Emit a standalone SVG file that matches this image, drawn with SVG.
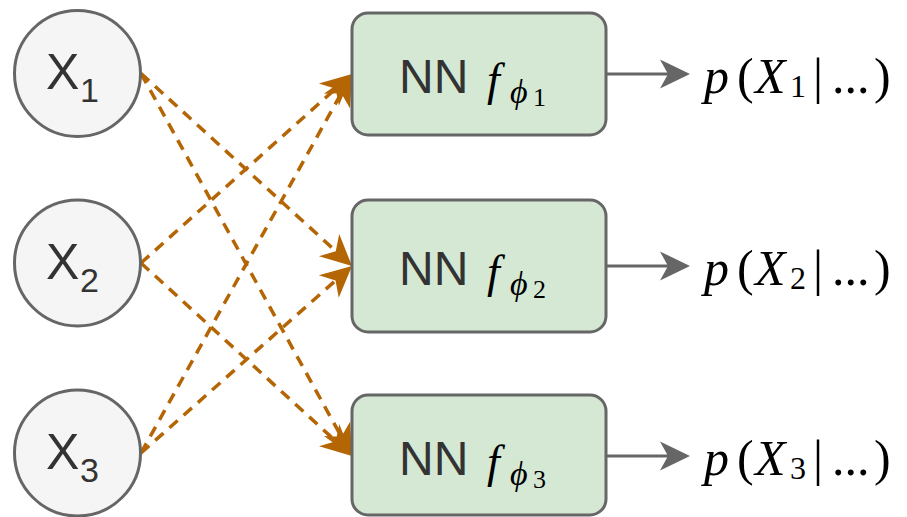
<svg xmlns="http://www.w3.org/2000/svg" width="907" height="517" viewBox="0 0 907 517">
<style>
.circ{fill:#f5f5f5;stroke:#666666;stroke-width:3}
.box{fill:#d5e8d4;stroke:#666666;stroke-width:3}
.lbl{font-family:"Liberation Sans",Arial,sans-serif;fill:#333333}
.math{font-family:"Liberation Serif","Times New Roman",serif;fill:#000000}
.it{font-style:italic}
.dash{stroke:#b46504;stroke-width:3.5;stroke-dasharray:11 8;fill:none}
.out{stroke:#666666;stroke-width:3;fill:none}
</style>
<defs>
<marker id="ah-orange" markerUnits="userSpaceOnUse" markerWidth="40" markerHeight="40" refX="0" refY="0" orient="auto" overflow="visible">
<path d="M22,0 L-9,-15 L0,0 L-9,15 Z" fill="#b46504"/>
</marker>
<marker id="ah-gray" markerUnits="userSpaceOnUse" markerWidth="40" markerHeight="40" refX="0" refY="0" orient="auto" overflow="visible">
<path d="M22,0 L-8,-14.5 L0,0 L-8,14.5 Z" fill="#666666"/>
</marker>
</defs>

<g id="connectors">
<line class="dash" x1="141" y1="73.5" x2="335.75" y2="251.17" marker-end="url(#ah-orange)"/>
<line class="dash" x1="141" y1="73.5" x2="341.37" y2="436.73" marker-end="url(#ah-orange)"/>
<line class="dash" x1="141" y1="263" x2="335.61" y2="88.68" marker-end="url(#ah-orange)"/>
<line class="dash" x1="141" y1="263" x2="335.77" y2="441.15" marker-end="url(#ah-orange)"/>
<line class="dash" x1="141" y1="453" x2="341.30" y2="93.22" marker-end="url(#ah-orange)"/>
<line class="dash" x1="141" y1="453" x2="335.53" y2="280.59" marker-end="url(#ah-orange)"/>
<line class="out" x1="606" y1="74" x2="668" y2="74" marker-end="url(#ah-gray)"/>
<line class="out" x1="606" y1="266" x2="668" y2="266" marker-end="url(#ah-gray)"/>
<line class="out" x1="606" y1="456" x2="668" y2="456" marker-end="url(#ah-gray)"/>
</g>

<g id="x1">
<circle class="circ" cx="77.5" cy="73.5" r="63"/>
<text class="lbl" x="46" y="89" font-size="50">X</text>
<text class="lbl" x="80" y="102" font-size="34">1</text>
</g>
<g id="x2">
<circle class="circ" cx="77.5" cy="263" r="63"/>
<text class="lbl" x="46" y="278.5" font-size="50">X</text>
<text class="lbl" x="80" y="291.5" font-size="34">2</text>
</g>
<g id="x3">
<circle class="circ" cx="77.5" cy="453" r="63"/>
<text class="lbl" x="46" y="468.5" font-size="50">X</text>
<text class="lbl" x="80" y="481.5" font-size="34">3</text>
</g>

<g id="nn1">
<rect class="box" x="352" y="13" width="254" height="122" rx="16"/>
<text class="lbl" x="399" y="93" font-size="48">NN</text>
<text class="math it" x="487" y="95" font-size="46">f</text>
<text class="math it" x="510" y="103" font-size="34">ϕ</text>
<text class="math" x="533" y="106" font-size="26">1</text>
</g>
<g id="nn2">
<rect class="box" x="352" y="200" width="254" height="132" rx="16"/>
<text class="lbl" x="399" y="285" font-size="48">NN</text>
<text class="math it" x="487" y="287" font-size="46">f</text>
<text class="math it" x="510" y="295" font-size="34">ϕ</text>
<text class="math" x="533" y="298" font-size="26">2</text>
</g>
<g id="nn3">
<rect class="box" x="352" y="395" width="254" height="120" rx="16"/>
<text class="lbl" x="399" y="475" font-size="48">NN</text>
<text class="math it" x="487" y="477" font-size="46">f</text>
<text class="math it" x="510" y="485" font-size="34">ϕ</text>
<text class="math" x="533" y="488" font-size="26">3</text>
</g>

<g id="p1">
<text class="math" y="93" font-size="50"><tspan class="it" x="704">p</tspan><tspan x="737">(</tspan><tspan class="it" x="755">X</tspan><tspan x="790" y="97" font-size="32">1</tspan><tspan x="813" y="93">|</tspan><tspan x="832">...</tspan><tspan x="874">)</tspan></text>
</g>
<g id="p2">
<text class="math" y="285" font-size="50"><tspan class="it" x="704">p</tspan><tspan x="737">(</tspan><tspan class="it" x="755">X</tspan><tspan x="790" y="289" font-size="32">2</tspan><tspan x="813" y="285">|</tspan><tspan x="832">...</tspan><tspan x="874">)</tspan></text>
</g>
<g id="p3">
<text class="math" y="475" font-size="50"><tspan class="it" x="704">p</tspan><tspan x="737">(</tspan><tspan class="it" x="755">X</tspan><tspan x="790" y="479" font-size="32">3</tspan><tspan x="813" y="475">|</tspan><tspan x="832">...</tspan><tspan x="874">)</tspan></text>
</g>
</svg>
